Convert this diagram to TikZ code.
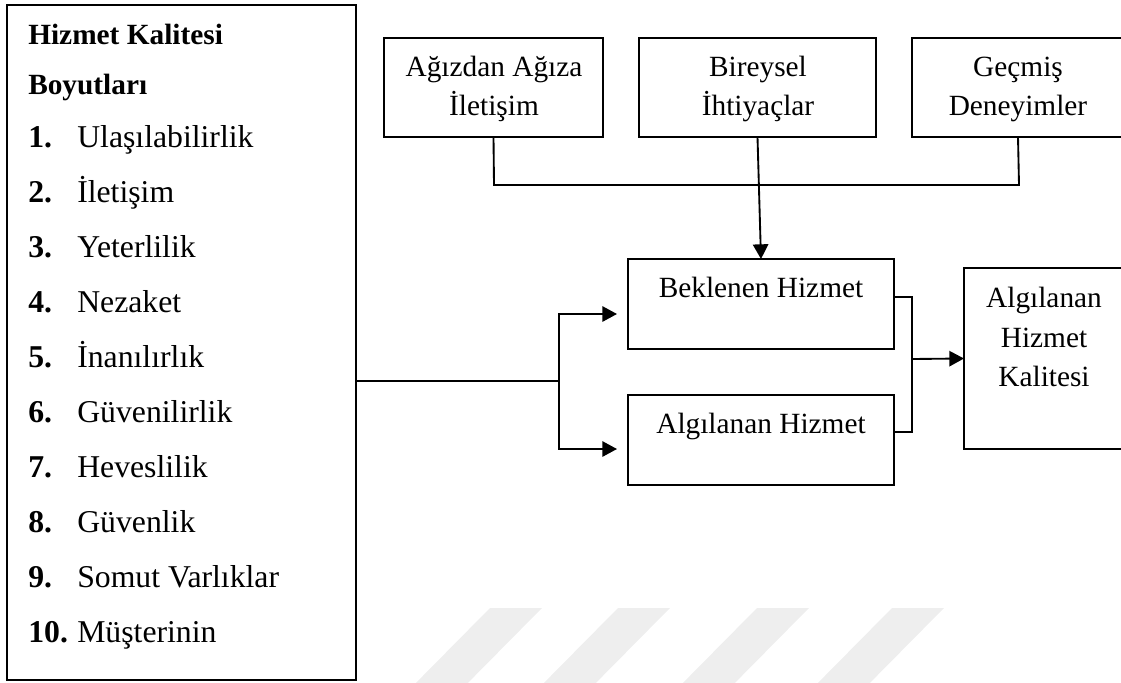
\documentclass[tikz,border=0pt]{standalone}
\usepackage{fontspec}
\setmainfont{Liberation Serif}
\usetikzlibrary{arrows.meta}
\begin{document}
\begin{tikzpicture}[x=0.75pt,y=-0.75pt,
  font=\fontsize{22}{28}\selectfont,
  box/.style={draw,line width=1.4pt,inner sep=0pt,outer sep=0pt,rectangle},
  txt/.style={inner sep=0pt,anchor=base},
  ltxt/.style={inner sep=0pt,anchor=base west},
  itxt/.style={ltxt,font=\fontsize{23.8}{29}\selectfont},
  wire/.style={line width=1.4pt},
  arr/.style={line width=1.4pt,-{Triangle[length=11pt,width=11.5pt]}},
  stripe/.style={fill=gray!13,draw=none}]
\useasboundingbox (0,0) rectangle (1121,682);
\clip (0,0) rectangle (1121,682);

% faint diagonal stripes along the bottom
\foreach \sx in {490,618,757,892}{
  \fill[stripe] (\sx,608) -- (\sx+52,608) -- (\sx+52-91,700) -- (\sx-91,700) -- cycle;
}

% list of service-quality dimensions
\node[box,minimum width=261.75pt,minimum height=506.25pt] (L) at (181.5,342.5) {};
\node[ltxt] (h1) at (28,44) {\textbf{Hizmet Kalitesi}};
\node[ltxt] (h2) at (28,94) {\textbf{Boyutları}};
\foreach \i/\t in {1/Ulaşılabilirlik,2/İletişim,3/Yeterlilik,4/Nezaket,5/İnanılırlık,6/Güvenilirlik,7/Heveslilik,8/Güvenlik,9/Somut Varlıklar,10/Müşterinin}{
  \pgfmathsetmacro{\yy}{147+55*(\i-1)}
  \node[itxt] (num\i) at (28,\yy) {\textbf{\i.}};
  \node[itxt] (item\i) at (77,\yy) {\t};
}

% top row of influences
\node[box,minimum width=164.25pt,minimum height=74.25pt] (A) at (493.5,87.5) {};
\node[txt] (a1) at (494,76) {Ağızdan Ağıza};
\node[txt] (a2) at (494,115) {İletişim};
\node[box,minimum width=177.75pt,minimum height=74.25pt] (B) at (757.5,87.5) {};
\node[txt] (b1) at (758,76) {Bireysel};
\node[txt] (b2) at (758,115) {İhtiyaçlar};
\node[box,minimum width=159pt,minimum height=74.25pt] (G) at (1018,87.5) {};
\node[txt] (g1) at (1018,76) {Geçmiş};
\node[txt] (g2) at (1018,115) {Deneyimler};

% expected and perceived service
\node[box,minimum width=199.5pt,minimum height=67.5pt] (E) at (761,304) {};
\node[txt] (e1) at (761,297) {Beklenen Hizmet};
\node[box,minimum width=199.5pt,minimum height=67.5pt] (P) at (761,440) {};
\node[txt] (p1) at (761,433) {Algılanan Hizmet};

% perceived service quality
\node[box,minimum width=120.75pt,minimum height=135.75pt] (Q) at (1044.5,358.5) {};
\node[txt] (q1) at (1044,307) {Algılanan};
\node[txt] (q2) at (1044,347) {Hizmet};
\node[txt] (q3) at (1044,386) {Kalitesi};

% connectors
\coordinate (busA) at (494,185);
\coordinate (busG) at (1019,185);
\draw[wire] (A.south) -- (busA) -- (busG) -- (G.south);
\draw[arr] (B.south) -- (E.north);

\coordinate (split) at (559,381);
\coordinate (eIn) at (628,314);
\coordinate (pIn) at (628,449);
\draw[wire] (L.east |- split) -- (split);
\draw[arr,shorten >=8.25pt] (split) |- (eIn);
\draw[arr,shorten >=8.25pt] (split) |- (pIn);

\coordinate (eOut) at (894,297);
\coordinate (pOut) at (894,432);
\coordinate (merge) at (912,359);
\draw[wire] (eOut) -| (merge) |- (pOut);
\draw[arr] (merge) -- (Q.west);
\end{tikzpicture}
\end{document}
